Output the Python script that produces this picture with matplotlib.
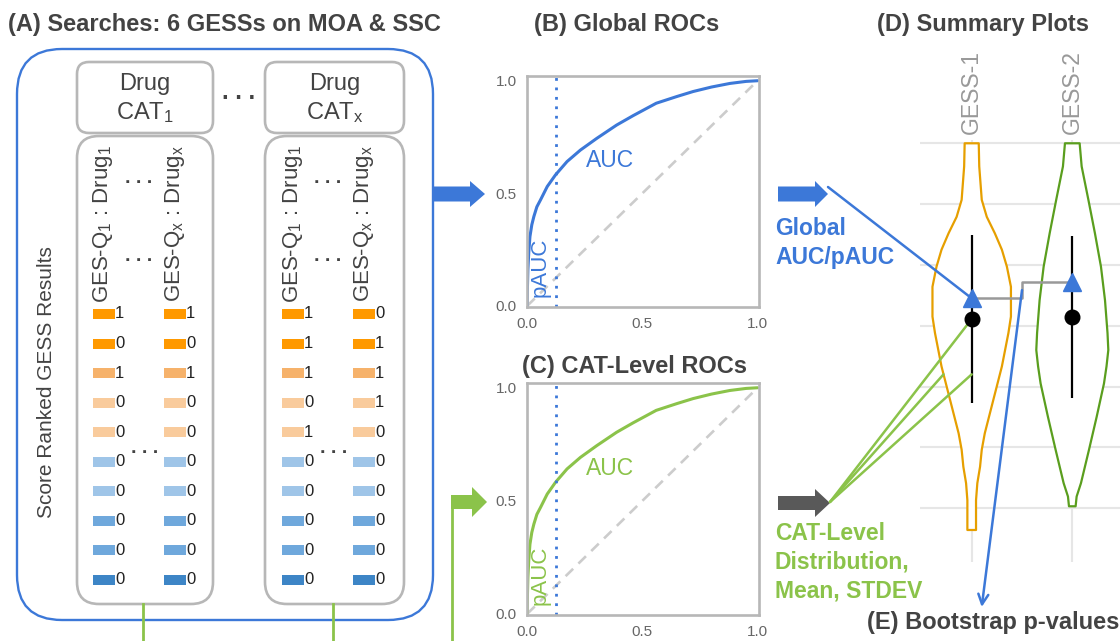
import numpy as np
import matplotlib.pyplot as plt
from matplotlib.patches import FancyBboxPatch, FancyArrow

plt.rcParams['font.family'] = ['Liberation Sans', 'DejaVu Sans']
plt.rcParams['mathtext.fontset'] = 'custom'
plt.rcParams['mathtext.rm'] = 'Liberation Sans'
plt.rcParams['mathtext.it'] = 'Liberation Sans:italic'
plt.rcParams['mathtext.bf'] = 'Liberation Sans:bold'
plt.rcParams['mathtext.default'] = 'regular'

BLUE = '#3c78d8'
GREEN = '#8bc34a'
GRAY = '#b7b7b7'
DARK = '#434343'

# ranked GESS results, top hit first (1 = same category, 0 = not)
cat_labels = ['Drug\nCAT$_1$', 'Drug\nCAT$_x$']
query_labels = ['GES-Q$_1$ : Drug$_1$', 'GES-Q$_x$ : Drug$_x$',
                'GES-Q$_1$ : Drug$_1$', 'GES-Q$_x$ : Drug$_x$']
hits_cat1_q1 = [1, 0, 1, 0, 0, 0, 0, 0, 0, 0]
hits_cat1_qx = [1, 0, 1, 0, 0, 0, 0, 0, 0, 0]
hits_catx_q1 = [1, 1, 1, 0, 1, 0, 0, 0, 0, 0]
hits_catx_qx = [0, 1, 1, 1, 0, 0, 0, 0, 0, 0]
rank_colors = ['#ff9900', '#ff9900', '#f6b26b', '#f9cb9c', '#f9cb9c',
               '#9fc5e8', '#9fc5e8', '#6fa8dc', '#6fa8dc', '#3d85c6']

# ROC curve (FPR, TPR)
roc_fpr = [0.0, 0.001, 0.003, 0.007, 0.012, 0.02, 0.029, 0.042, 0.058, 0.087,
           0.123, 0.173, 0.231, 0.302, 0.388, 0.46, 0.56, 0.65, 0.72, 0.80,
           0.88, 0.95, 1.0]
roc_tpr = [0.0, 0.08, 0.16, 0.24, 0.308, 0.36, 0.397, 0.44, 0.471, 0.53,
           0.582, 0.641, 0.692, 0.744, 0.803, 0.845, 0.90, 0.93, 0.952, 0.972,
           0.988, 0.997, 1.0]
pauc_cutoff = 0.125
ticks01 = [0.0, 0.5, 1.0]

# summary plot
gess_names = ['GESS-1', 'GESS-2']
v1_level = [1.0, 0.962, 0.907, 0.879, 0.852, 0.825, 0.797, 0.764, 0.715, 0.688,
            0.633, 0.578, 0.523, 0.496, 0.468, 0.441, 0.413, 0.364]
v1_half = [0.07, 0.075, 0.10, 0.15, 0.23, 0.30, 0.35, 0.39, 0.39, 0.365,
           0.30, 0.215, 0.13, 0.10, 0.083, 0.056, 0.043, 0.043]
v2_level = [1.0, 0.962, 0.907, 0.852, 0.797, 0.742, 0.688, 0.660, 0.633, 0.605,
            0.550, 0.496, 0.441, 0.419, 0.403]
v2_half = [0.073, 0.093, 0.16, 0.225, 0.285, 0.325, 0.35, 0.358, 0.34, 0.315,
           0.242, 0.166, 0.086, 0.043, 0.033]
violin_colors = ['#e69f00', '#5a9e1e']
cat_mean = [0.711, 0.714]
cat_sd = [0.138, 0.133]
global_auc = [0.745, 0.772]
grid_levels = [0.4, 0.5, 0.6, 0.7, 0.8, 0.9, 1.0]

W, H = 1120, 641
fig = plt.figure(figsize=(W / 100, H / 100), dpi=100)
bg = fig.add_axes([0, 0, 1, 1])
bg.set_xlim(0, W)
bg.set_ylim(H, 0)
bg.axis('off')


def px_axes(x0, y0, x1, y1):
    return fig.add_axes([x0 / W, 1 - y1 / H, (x1 - x0) / W, (y1 - y0) / H])


def rbox(x0, y0, x1, y1, r, color, lw):
    bg.add_patch(FancyBboxPatch((x0, y0), x1 - x0, y1 - y0,
                                boxstyle=f'round,pad=0,rounding_size={r}',
                                fc='none', ec=color, lw=lw))


def arrow(x, y, length, color, width=14, head=28, head_len=15):
    bg.add_patch(FancyArrow(x, y, length, 0, width=width, head_width=head,
                            head_length=head_len, length_includes_head=True,
                            color=color, lw=0))


# ---- (A) searches ----
bg.text(8, 24, '(A) Searches: 6 GESSs on MOA & SSC', fontsize=17,
        fontweight='bold', color=DARK, va='center')
rbox(17, 49, 433, 620, 45, BLUE, 1.7)

box_x = [(77, 213), (265, 404)]
for (x0, x1), lab in zip(box_x, cat_labels):
    rbox(x0, 62, x1, 133, 12, GRAY, 1.9)
    rbox(x0, 136, x1, 604, 22, GRAY, 1.9)
    bg.text((x0 + x1) / 2, 99, lab, fontsize=17, color=DARK,
            ha='center', va='center', linespacing=1.25)
    bg.plot([(x0 + x1) / 2 - 2] * 2, [604, H], color=GREEN, lw=2)
bg.text(239, 99, '. . .', fontsize=17, fontweight='bold', color=DARK,
        ha='center', va='baseline')

bg.text(47, 382, 'Score Ranked GESS Results', fontsize=15, color=DARK,
        rotation=90, ha='center', va='center')

col_left = [93, 164, 282, 353]
col_text = [103, 175, 293, 364]
row_y = np.linspace(314, 580, 10)
columns = [hits_cat1_q1, hits_cat1_qx, hits_catx_q1, hits_catx_qx]
for left, tx, lab, hits in zip(col_left, col_text, query_labels, columns):
    bg.text(tx, 224, lab, fontsize=16, color=DARK, rotation=90,
            ha='center', va='center')
    bg.barh(row_y, [22] * len(hits), left=left, height=10, color=rank_colors)
    for y, v in zip(row_y, hits):
        bg.text(left + 22, y, str(v), fontsize=12, color='#222222',
                ha='left', va='center')

for cx in [139, 328]:
    for y in [183, 261]:
        bg.text(cx, y, '. . .', fontsize=14, fontweight='bold', color=DARK,
                ha='center', va='baseline')
    bg.text(cx + 6, 453, '. . .', fontsize=14, fontweight='bold', color=DARK,
            ha='center', va='baseline')

# flow arrows into the ROC panels
arrow(432, 194, 53, BLUE, width=15, head=26)
bg.plot([452, 452], [H, 502], color=GREEN, lw=2)
arrow(451, 502, 36, GREEN, width=14, head=30)

# ---- (B)/(C) ROC panels ----
bg.text(627, 24, '(B) Global ROCs', fontsize=17, fontweight='bold',
        color=DARK, ha='center', va='center')
bg.text(635, 366, '(C) CAT-Level ROCs', fontsize=17, fontweight='bold',
        color=DARK, ha='center', va='center')


def roc_panel(ax, color):
    ax.plot([0, 1], [0, 1], color='#cccccc', lw=1.9, dashes=(4, 2.8))
    ax.plot(roc_fpr, roc_tpr, color=color, lw=2.2, solid_capstyle='round',
            solid_joinstyle='round')
    ax.axvline(pauc_cutoff, color=BLUE, lw=2.0, ls=(0, (1, 2.4)))
    ax.text(0.36, 0.645, 'AUC', fontsize=16.5, color=color,
            ha='center', va='center')
    ax.text(0.056, 0.17, 'pAUC', fontsize=16, color=color, rotation=90,
            ha='center', va='center')
    ax.set_xlim(-0.003, 1.004)
    ax.set_ylim(-0.005, 1.021)
    ax.set_xticks(ticks01)
    ax.set_yticks(ticks01)
    ax.set_xticklabels([f'{t:.1f}' for t in ticks01])
    ax.set_yticklabels([f'{t:.1f}' for t in ticks01])
    ax.tick_params(length=0, labelsize=11, labelcolor='#666666', pad=7)
    for s in ax.spines.values():
        s.set_color(GRAY)
        s.set_linewidth(1.9)
    ax.patch.set_alpha(0)


axB = px_axes(526.5, 76, 758.5, 307)
roc_panel(axB, BLUE)
axC = px_axes(526.5, 383, 758.5, 615)
roc_panel(axC, GREEN)

# ---- labels feeding the summary plot ----
arrow(778, 194, 50, BLUE, width=15, head=26, head_len=13)
bg.text(775, 243, 'Global\nAUC/pAUC', fontsize=16.5, fontweight='bold',
        color=BLUE, ha='left', va='center', linespacing=1.32)
arrow(778, 503, 52, '#595959', width=14, head=28)
bg.text(775, 562, 'CAT-Level\nDistribution,\nMean, STDEV', fontsize=16.5,
        fontweight='bold', color=GREEN, ha='left', va='center', linespacing=1.32)

# ---- (D) summary violins ----
bg.text(983, 25, '(D) Summary Plots', fontsize=17, fontweight='bold',
        color=DARK, ha='center', va='center')
axD = px_axes(920, 140, 1120, 562)
axD.set_xlim(1 - 51.7 / 100.6, 2 + 47.7 / 100.6)
axD.set_ylim(1.0 - (562 - 143.3) / 608, 1.0 + 3.3 / 608)
axD.set_yticks(grid_levels)
axD.set_yticklabels([])
axD.set_xticks([1, 2])
axD.set_xticklabels(gess_names, rotation=90, fontsize=16.5, color='#999999')
axD.xaxis.tick_top()
axD.tick_params(length=0, pad=4)
axD.grid(True, color='#e6e6e6', lw=1.5)
axD.set_axisbelow(True)
for s in axD.spines.values():
    s.set_visible(False)
axD.patch.set_alpha(0)

for pos, lev, half, col in zip([1, 2], [v1_level, v2_level], [v1_half, v2_half],
                               violin_colors):
    lev = np.array(lev)
    half = np.array(half)
    xs = np.concatenate([pos - half, (pos + half)[::-1]])
    ys = np.concatenate([lev, lev[::-1]])
    axD.fill(xs, ys, facecolor='white', edgecolor=col, lw=1.6, zorder=2,
             joinstyle='round')

axD.vlines([1, 2], np.array(cat_mean) - np.array(cat_sd),
           np.array(cat_mean) + np.array(cat_sd), color='black', lw=1.6, zorder=3)
axD.plot([1, 1.5, 1.5, 2], [global_auc[0], global_auc[0], global_auc[1], global_auc[1]],
         color='#999999', lw=1.8, zorder=3)
axD.plot([1, 2], cat_mean, 'o', color='black', ms=10.5, zorder=5)
axD.plot([1, 2], global_auc, '^', color=BLUE, ms=12.5, zorder=6)

# connectors from the labels to the marks
line_kw = dict(shrinkA=0, shrinkB=0)
axD.annotate('', xy=(1, global_auc[0]), xytext=(828, 187), textcoords=bg.transData,
             arrowprops=dict(arrowstyle='-', color=BLUE, lw=1.8, **line_kw),
             annotation_clip=False)
edge_level = 0.62
edge_x = 1 - np.interp(edge_level, v1_level[::-1], v1_half[::-1])
for tgt in [(1, cat_mean[0]), (edge_x, edge_level), (1, edge_level)]:
    axD.annotate('', xy=tgt, xytext=(830, 502), textcoords=bg.transData,
                 arrowprops=dict(arrowstyle='-', color=GREEN, lw=1.8, **line_kw),
                 annotation_clip=False)
axD.annotate('', xy=(981.7, 607), xycoords=bg.transData,
             xytext=(1.5, (global_auc[0] + global_auc[1]) / 2), textcoords='data',
             arrowprops=dict(arrowstyle='->', color=BLUE, lw=1.8,
                             mutation_scale=18, **line_kw),
             annotation_clip=False)

bg.text(867, 623, '(E) Bootstrap p-values', fontsize=17, fontweight='bold',
        color=DARK, ha='left', va='center')

fig.savefig('out.png', dpi=100)
